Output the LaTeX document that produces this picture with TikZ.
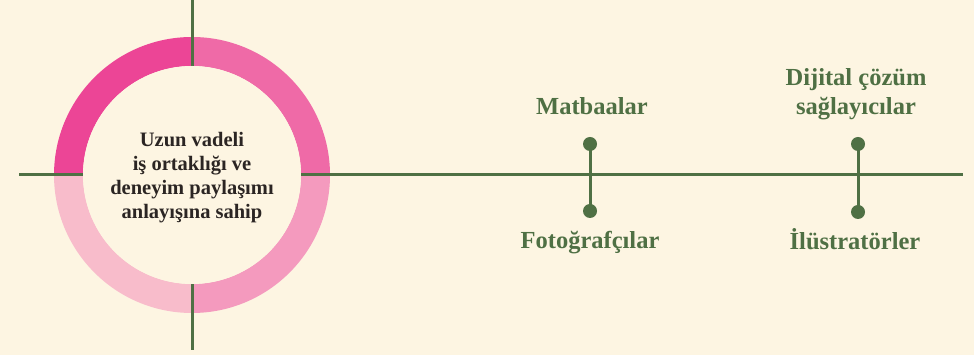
\documentclass[tikz,border=0pt]{standalone}
\usepackage{fontspec}
\setmainfont{Liberation Serif}
\definecolor{bg}{HTML}{FDF5E2}
\definecolor{pinkA}{HTML}{EC4596}
\definecolor{pinkB}{HTML}{EF6AA7}
\definecolor{pinkC}{HTML}{F49ABE}
\definecolor{pinkD}{HTML}{F8BCCB}
\definecolor{grn}{HTML}{4F7044}
\definecolor{dark}{HTML}{2B2523}
\begin{document}
\begin{tikzpicture}[x=1pt,y=1pt,
  axis/.style={draw=grn,line width=3pt},
  dot/.style={circle,fill=grn,inner sep=0pt,minimum size=14pt},
  lbl/.style={text=grn,font=\fontsize{24.5}{29}\selectfont\bfseries,align=center,anchor=base,inner sep=0pt},
  ctext/.style={text=dark,font=\fontsize{20.5}{24}\selectfont\bfseries,align=center,inner sep=0pt}]
\fill[bg] (0,0) rectangle (974,355);
\useasboundingbox (0,0) rectangle (974,355);
\coordinate (c) at (192,180);
% ring quadrants
\fill[pinkB] (c) ++(0:138) arc[start angle=0,end angle=90,radius=138] -- ++(0,-29) arc[start angle=90,end angle=0,radius=109] -- cycle;
\fill[pinkA] (c) ++(90:138) arc[start angle=90,end angle=180,radius=138] -- ++(29,0) arc[start angle=180,end angle=90,radius=109] -- cycle;
\fill[pinkD] (c) ++(180:138) arc[start angle=180,end angle=270,radius=138] -- ++(0,29) arc[start angle=270,end angle=180,radius=109] -- cycle;
\fill[pinkC] (c) ++(270:138) arc[start angle=270,end angle=360,radius=138] -- ++(-29,0) arc[start angle=360,end angle=270,radius=109] -- cycle;
% axes
\coordinate (hl) at (19,180);
\coordinate (hr) at (963,180);
\coordinate (vt) at (192,355);
\coordinate (vb) at (192,5);
\draw[axis] (hl) -- (hr);
\draw[axis] (vt) -- (vb);
\fill[bg] (c) circle[radius=109];
\node[ctext] (center) at (192,177) {Uzun vadeli\\iş ortaklığı ve\\deneyim paylaşımı\\anlayışına sahip};
% stems
\node[dot] (d1t) at (590,211) {};
\node[dot] (d1b) at (590,144) {};
\node[dot] (d2t) at (858,211) {};
\node[dot] (d2b) at (858,143) {};
\draw[axis] (d1t.center) -- (d1b.center);
\draw[axis] (d2t.center) -- (d2b.center);
% labels
\node[lbl] (l1) at (592,240) {Matbaalar};
\node[lbl] (l2) at (590,106) {Fotoğrafçılar};
\node[lbl] (l3) at (856,240) {Dijital çözüm\\sağlayıcılar};
\node[lbl] (l4) at (855,105) {İlüstratörler};
\end{tikzpicture}
\end{document}
